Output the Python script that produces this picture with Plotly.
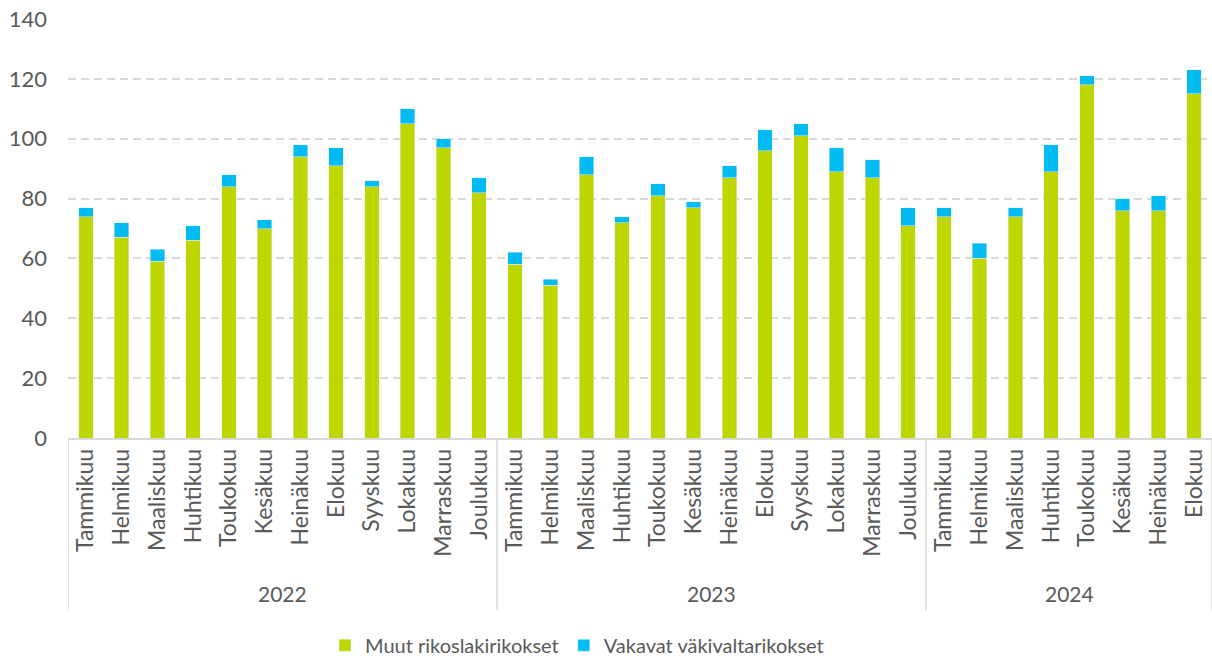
import plotly.graph_objects as go

year_names = ["2022", "2023", "2024"]
year_counts = [12, 12, 8]
month_names = ["Tammikuu", "Helmikuu", "Maaliskuu", "Huhtikuu", "Toukokuu", "Kesäkuu",
               "Heinäkuu", "Elokuu", "Syyskuu", "Lokakuu", "Marraskuu", "Joulukuu"]
months = month_names * 2 + month_names[:8]

muut = [74, 67, 59, 66, 84, 70, 94, 91, 84, 105, 97, 82,
        58, 51, 88, 72, 81, 77, 87, 96, 101, 89, 87, 71,
        74, 60, 74, 89, 118, 76, 76, 115]
vakavat = [3, 5, 4, 5, 4, 3, 4, 6, 2, 5, 3, 5,
           4, 2, 6, 2, 4, 2, 4, 7, 4, 8, 6, 6,
           3, 5, 3, 9, 3, 4, 5, 8]

GREEN = "#bed600"
BLUE = "#00bcf2"
TEXT = "#595959"
LINE = "#d9d9d9"
FONT = "Lato"

xpos = list(range(len(months)))

fig = go.Figure()
fig.add_trace(go.Bar(x=xpos, y=muut, name="Muut rikoslakirikokset", marker_color=GREEN))
fig.add_trace(go.Bar(x=xpos, y=vakavat, name="Vakavat väkivaltarikokset", marker_color=BLUE))

plot_h = 659 - 19 - 221
div_depth = -(610 - 438) / plot_h
year_y = -(593 - 438) / plot_h

start = 0
bounds = [-0.5]
for name, cnt in zip(year_names, year_counts):
    center = start + (cnt - 1) / 2
    fig.add_annotation(x=center, y=year_y, xref="x", yref="paper", text=name,
                       showarrow=False, yanchor="middle",
                       font=dict(family=FONT, size=21, color=TEXT))
    start += cnt
    bounds.append(start - 0.5)
for b in bounds:
    fig.add_shape(type="line", xref="x", yref="paper", x0=b, x1=b, y0=0, y1=div_depth,
                  line=dict(color=LINE, width=1.5))

fig.update_layout(
    width=1212, height=659,
    barmode="stack", bargap=0.6,
    plot_bgcolor="white", paper_bgcolor="white",
    margin=dict(l=68, r=0, t=19, b=221, autoexpand=False),
    font=dict(family=FONT, size=20, color=TEXT),
    showlegend=True,
    legend=dict(orientation="h", x=(325 - 68) / 1144, xanchor="left", y=-0.448,
                yanchor="top", font=dict(size=20, color=TEXT), itemwidth=30,
                traceorder="normal"),
    yaxis=dict(range=[0, 140], dtick=20, showgrid=True, gridcolor=LINE,
               griddash="8px,5px", gridwidth=2, zeroline=False, showline=False,
               tickfont=dict(size=22, color=TEXT), ticks="", ticklabelstandoff=20,
               automargin=False),
    xaxis=dict(range=[-0.5, len(months) - 0.5], tickmode="array", tickvals=xpos,
               ticktext=months, tickangle=-90, showline=True, linecolor=LINE,
               linewidth=1.5, showgrid=False, zeroline=False,
               tickfont=dict(size=23, color=TEXT), ticks="", automargin=False),
)

fig.write_html("out.html", config={"displayModeBar": False},
               post_script="document.body.style.margin='0';document.body.style.padding='0';")
